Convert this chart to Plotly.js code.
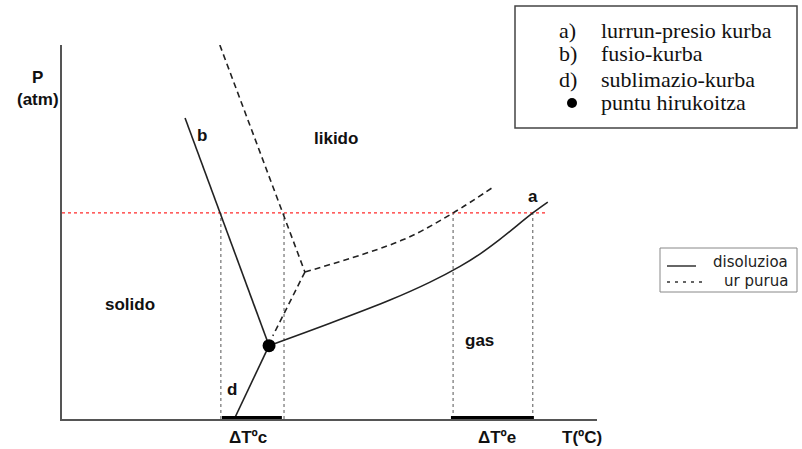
<!DOCTYPE html>
<html>
<head>
<meta charset="utf-8">
<script src="https://cdn.plot.ly/plotly-3.0.1.min.js"></script>
<style>html,body{margin:0;padding:0;background:#fff;}#chart{width:802px;height:449px;}</style>
</head>
<body>
<div id="chart"></div>
<script>
// ---- data (T in arbitrary units 0..100, P in arbitrary units 0..100) ----
const triplePoint = {T: 38.7, P: 19.6};

// solution (disoluzioa), solid
const solVapT = [38.7, 50.1, 61.3, 68.8, 74.4, 78.1, 81.9, 88.0, 90.8];
const solVapP = [19.6, 25.6, 31.8, 36.6, 40.8, 44.1, 48.1, 55.1, 58.0];
const solFusT = [23.0, 38.7];
const solFusP = [80.5, 19.6];
const solSubT = [38.7, 32.2];
const solSubP = [19.6, 0];

// pure water (ur purua), dashed
const pureFusT = [29.5, 45.4];
const pureFusP = [100, 39.3];
const pureSubT = [45.4, 39.4];
const pureSubP = [39.3, 22.2];
const pureVapT = [45.4, 63.7, 73.1, 80.9];
const pureVapP = [39.3, 47.9, 55.1, 62.3];

// reference pressure (red dotted)
const refP = 55.1;
const refT = [0, 90.8];

// temperatures where curves cross reference pressure
const crossT = [29.7, 41.5, 73.1, 88.0];

// temperature intervals on the axis
const deltaC = [29.9, 41.1];
const deltaE = [72.7, 88.2];

// labels
const regionLabels = ['b', 'likido', 'a', 'solido', 'gas', 'd'];
const regionT = [26.2, 51.2, 88.0, 12.7, 78.1, 31.8];
const regionP = [75.9, 75.1, 59.6, 30.5, 21.1, 7.8];

const axisLabelTexts = ['ΔTºc', 'ΔTºe', 'T(ºC)'];
const axisLabelT = [34.8, 81.3, 97.2];

const legend1Keys = ['a)', 'b)', 'd)'];
const legend1Texts = ['lurrun-presio kurba', 'fusio-kurba', 'sublimazio-kurba', 'puntu hirukoitza'];
const legend2Texts = ['disoluzioa', 'ur purua'];

// ---- drawing ----
const dark = '#222';
const solid = {color: dark, width: 1.6};
const dashed = {color: dark, width: 1.6, dash: '6px,4px'};
const traces = [];
function line(x, y, ln, shape) {
  traces.push({x: x, y: y, mode: 'lines', line: Object.assign({shape: shape || 'linear'}, ln),
    hoverinfo: 'skip', showlegend: false, cliponaxis: false});
}
// reference pressure line
line(refT, [refP, refP], {color: '#ff2a2a', width: 1.3, dash: 'dot'});
// vertical dotted lines
crossT.forEach(t => line([t, t], [0, refP], {color: '#555', width: 1, dash: 'dot'}));
// pure water
line(pureFusT, pureFusP, dashed);
line(pureSubT, pureSubP, dashed);
line(pureVapT, pureVapP, dashed, 'spline');
// solution
line(solFusT, solFusP, solid);
line(solSubT, solSubP, solid);
line(solVapT, solVapP, solid, 'spline');
// delta T bars
line(deltaC, [0, 0], {color: '#000', width: 6});
line(deltaE, [0, 0], {color: '#000', width: 6});
// triple point
traces.push({x: [triplePoint.T], y: [triplePoint.P], mode: 'markers',
  marker: {color: '#000', size: 13}, hoverinfo: 'skip', showlegend: false, cliponaxis: false});

// plot area pixel geometry
const L = 62, R = 597, T = 45, B = 419;
const W = R - L, H = B - T;
const px = x => (x - L) / W;
const py = y => (B - y) / H;

const boldFont = {family: 'Liberation Sans, Arial, sans-serif', size: 17, color: '#111', weight: 'bold'};
const annotations = [];
function ann(o) { annotations.push(Object.assign({showarrow: false, xanchor: 'center', yanchor: 'middle'}, o)); }
regionLabels.forEach((s, i) => ann({x: regionT[i], y: regionP[i], xref: 'x', yref: 'y', text: s, font: boldFont}));
axisLabelTexts.forEach((s, i) => ann({x: axisLabelT[i], y: py(437), xref: 'x', yref: 'paper', text: s, font: boldFont}));
ann({x: px(38), y: py(88.5), xref: 'paper', yref: 'paper', text: 'P<br>(atm)', font: boldFont});

const serif = {family: 'Liberation Serif, Times New Roman, serif', size: 22, color: '#111'};
const rows = [30, 54, 79, 103];
legend1Keys.forEach((s, i) => ann({x: px(557), y: py(rows[i]), xref: 'paper', yref: 'paper',
  xanchor: 'left', text: s, font: serif}));
legend1Texts.forEach((s, i) => ann({x: px(599), y: py(rows[i]), xref: 'paper', yref: 'paper',
  xanchor: 'left', text: s, font: serif}));

const sans = {family: 'DejaVu Sans, Verdana, sans-serif', size: 15, color: '#222'};
ann({x: px(790), y: py(262), xref: 'paper', yref: 'paper', xanchor: 'right', text: legend2Texts[0], font: sans});
ann({x: px(790), y: py(281), xref: 'paper', yref: 'paper', xanchor: 'right', text: legend2Texts[1], font: sans});

const shapes = [
  {type: 'rect', xref: 'paper', yref: 'paper', x0: px(515), x1: px(797), y0: py(128), y1: py(6),
    line: {color: '#444', width: 1.5}, fillcolor: 'rgba(0,0,0,0)'},
  {type: 'circle', xref: 'paper', yref: 'paper', x0: px(567), x1: px(577), y0: py(108), y1: py(98),
    line: {color: '#000', width: 0}, fillcolor: '#000'},
  {type: 'rect', xref: 'paper', yref: 'paper', x0: px(660), x1: px(797), y0: py(292), y1: py(248),
    line: {color: '#888', width: 1}, fillcolor: 'rgba(0,0,0,0)'},
  {type: 'line', xref: 'paper', yref: 'paper', x0: px(667), x1: px(696), y0: py(266), y1: py(266),
    line: {color: '#333', width: 1.5}},
  {type: 'line', xref: 'paper', yref: 'paper', x0: px(667), x1: px(702), y0: py(282), y1: py(282),
    line: {color: '#333', width: 1.5, dash: '3px,5px'}}
];

const layout = {
  width: 802, height: 449,
  margin: {l: L, r: 802 - R, t: T, b: 449 - B, pad: 0},
  paper_bgcolor: '#fff', plot_bgcolor: '#fff',
  showlegend: false,
  xaxis: {range: [0, 100], showline: true, linecolor: '#555', linewidth: 2, showgrid: false,
    zeroline: false, showticklabels: false, ticks: '', fixedrange: true},
  yaxis: {range: [0, 100], showline: true, linecolor: '#555', linewidth: 2, showgrid: false,
    zeroline: false, showticklabels: false, ticks: '', fixedrange: true},
  annotations: annotations,
  shapes: shapes
};
Plotly.newPlot('chart', traces, layout, {displayModeBar: false, staticPlot: true});
</script>
</body>
</html>
